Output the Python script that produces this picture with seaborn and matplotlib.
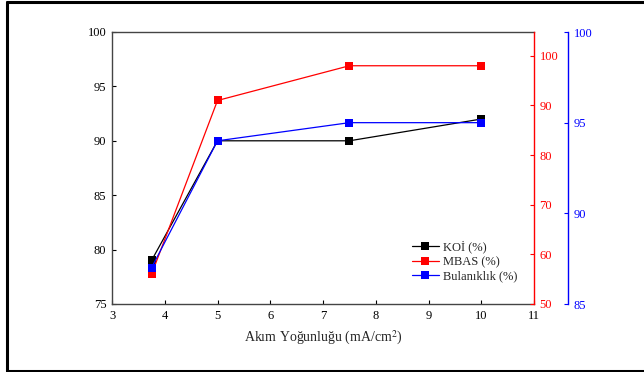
import matplotlib
matplotlib.use("Agg")
import matplotlib.pyplot as plt
import seaborn as sns
import pandas as pd
from matplotlib.lines import Line2D

sns.set_theme(style="white")
plt.rcParams['font.family'] = ['Liberation Serif', 'DejaVu Serif']
plt.rcParams['mathtext.fontset'] = 'stix'

akim = [3.75, 5, 7.5, 10]
koi = [79, 90, 90, 92]
mbas = [56, 91, 98, 98]
bulaniklik = [87, 94, 95, 95]

x_ticks = [3, 4, 5, 6, 7, 8, 9, 10, 11]
left_ticks = [75, 80, 85, 90, 95, 100]
red_ticks = [50, 60, 70, 80, 90, 100]
blue_ticks = [85, 90, 95, 100]

df = pd.DataFrame({"akim": akim, "koi": koi, "mbas": mbas, "bul": bulaniklik})

fig = plt.figure(figsize=(6.44, 3.72), dpi=100)
ax = fig.add_axes([112/644, 1-304/372, (534-112)/644, (304-32)/372])
ax2 = ax.twinx()
ax3 = ax.twinx()

kw = dict(marker="s", markersize=5.2, markeredgewidth=0, linewidth=0.9)
sns.lineplot(data=df, x="akim", y="koi", ax=ax, color="black", **kw)
sns.lineplot(data=df, x="akim", y="mbas", ax=ax2, color="#ff0000", **kw)
sns.lineplot(data=df, x="akim", y="bul", ax=ax3, color="#0000ff", **kw)

ax.set_xlim(3, 11)
ax.set_ylim(75, 100)
ax2.set_ylim(50, 104.8)
ax3.set_ylim(85, 100)
ax.set_xticks(x_ticks)
ax.set_xticklabels([str(t) for t in x_ticks])
ax.set_yticks(left_ticks)
ax2.set_yticks(red_ticks)
ax3.set_yticks(blue_ticks)

for a in (ax, ax2, ax3):
    a.set_ylabel("")
    a.set_xlabel("")
ax.set_xlabel("Akım Yoğunluğu (mA/cm$^2$)", fontsize=10, labelpad=5)

ax.tick_params(axis="both", direction="in", length=3, width=0.8, labelsize=9,
               colors="black", pad=4, left=True, bottom=True)
ax2.tick_params(axis="y", direction="in", length=3, width=0.8, labelsize=9,
                colors="#ff0000", pad=4, right=True)
ax3.tick_params(axis="y", direction="in", length=3, width=0.8, labelsize=9,
                colors="#0000ff", pad=4, right=True)

for s in ("left", "bottom", "top"):
    ax.spines[s].set_color("#444444")
    ax.spines[s].set_linewidth(1.0)
ax.spines["right"].set_visible(False)
for s in ("left", "bottom", "top"):
    ax2.spines[s].set_visible(False)
    ax3.spines[s].set_visible(False)
ax2.spines["right"].set_color("#ff0000")
ax2.spines["right"].set_linewidth(1.0)
ax3.spines["right"].set_position(("axes", (568-112)/(534-112)))
ax3.spines["right"].set_color("#0000ff")
ax3.spines["right"].set_linewidth(1.0)

handles = [
    Line2D([], [], color="black", marker="s", markersize=5.2, markeredgewidth=0, linewidth=0.9),
    Line2D([], [], color="#ff0000", marker="s", markersize=5.2, markeredgewidth=0, linewidth=0.9),
    Line2D([], [], color="#0000ff", marker="s", markersize=5.2, markeredgewidth=0, linewidth=0.9),
]
labels = ["KOİ (%)", "MBAS (%)", "Bulanıklık (%)"]
ax3.legend(handles, labels, loc="lower right", bbox_to_anchor=(0.972, 0.06),
           frameon=False, fontsize=9, handlelength=2.2, handletextpad=0.3,
           labelspacing=0.2, borderaxespad=0)

# outer frame
fig.add_artist(Line2D([7/644, 7/644], [1-1.5/372, 1-370.5/372], color="black", linewidth=2.2, transform=fig.transFigure))
fig.add_artist(Line2D([7/644, 1], [1-1.5/372, 1-1.5/372], color="black", linewidth=2.2, transform=fig.transFigure))
fig.add_artist(Line2D([7/644, 1], [1-370.5/372, 1-370.5/372], color="black", linewidth=2.2, transform=fig.transFigure))

fig.savefig("out.png", dpi=100, facecolor="white")
